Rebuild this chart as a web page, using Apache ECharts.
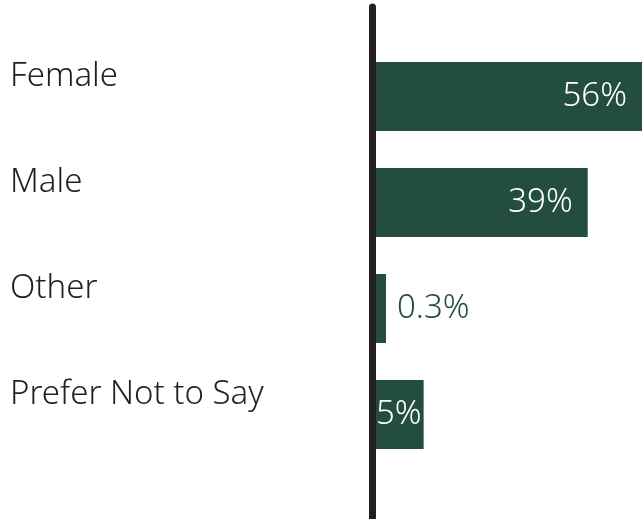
<!DOCTYPE html>
<html>
<head>
<meta charset="utf-8">
<script src="https://cdn.jsdelivr.net/npm/echarts@6/dist/echarts.min.js"></script>
<style>html,body{margin:0;padding:0;background:#fff}#c{width:642px;height:519px}</style>
</head>
<body>
<div id="c"></div>
<script>
const categories = ['Female', 'Male', 'Other', 'Prefer Not to Say'];
const values = [56, 39, 0.3, 5];
const valueLabels = ['56%', '39%', '0.3%', '5%'];

const GREEN = '#224d3f';
const INK = '#231f20';
const FONT = '"Noto Sans", "Open Sans", sans-serif';
const FS = 33;
const FW = 300;

function labelFor(v, i) {
  const base = { show: true, fontSize: FS, fontFamily: FONT, fontWeight: FW, formatter: valueLabels[i] };
  if (v < 1) {
    return Object.assign(base, { position: 'right', distance: 11, color: GREEN });
  }
  if (v < 10) {
    return Object.assign(base, { position: 'insideLeft', distance: 0, color: '#fff',
             backgroundColor: GREEN, lineHeight: 69, padding: [0, 2, 0, 0] });
  }
  return Object.assign(base, { position: 'insideRight', distance: 15, color: '#fff' });
}

const chart = echarts.init(document.getElementById('c'), null, { renderer: 'canvas' });
chart.setOption({
  animation: false,
  grid: [
    { left: 376, right: 0, top: 43.5, bottom: 51.5 },
    { left: 376, right: 0, top: 7, bottom: 0 }
  ],
  xAxis: [
    { type: 'value', gridIndex: 0, min: 0, max: 49, show: false },
    { type: 'value', gridIndex: 1, min: 0, max: 1, show: false }
  ],
  yAxis: [
    {
      type: 'category', gridIndex: 0, data: categories, inverse: true,
      axisLine: { show: false }, axisTick: { show: false }, splitLine: { show: false },
      axisLabel: {
        align: 'left', verticalAlign: 'bottom', lineHeight: 40, margin: 366,
        color: INK, fontSize: FS, fontFamily: FONT, fontWeight: FW
      }
    },
    {
      type: 'value', gridIndex: 1, min: 0, max: 1, offset: 3.5,
      axisLine: { show: true, onZero: false, lineStyle: { color: INK, width: 7 } },
      axisTick: { show: false }, axisLabel: { show: false }, splitLine: { show: false }
    }
  ],
  series: [{
    type: 'bar',
    xAxisIndex: 0, yAxisIndex: 0,
    barWidth: 69,
    barMinHeight: 10,
    itemStyle: { color: GREEN },
    data: values.map((v, i) => ({ value: v, label: labelFor(v, i) }))
  }]
});
</script>
</body>
</html>
